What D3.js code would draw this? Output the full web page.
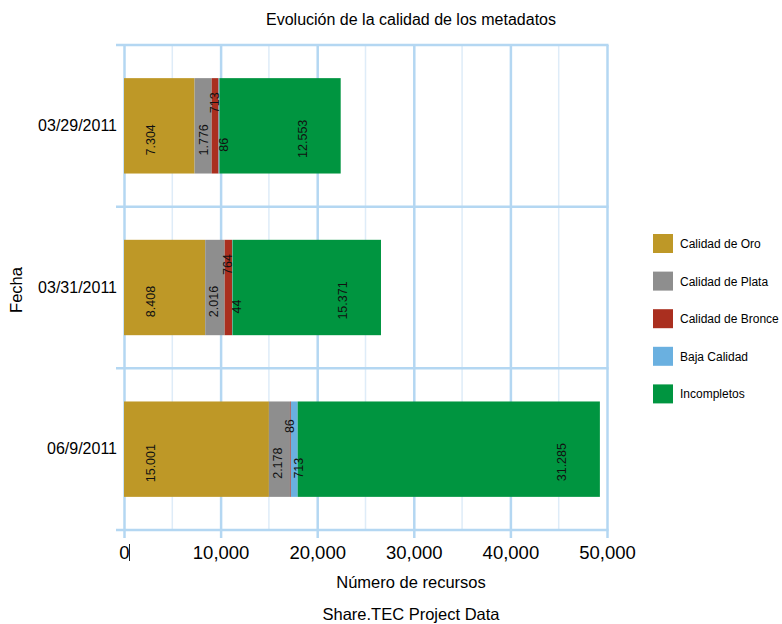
<!DOCTYPE html>
<html>
<head>
<meta charset="utf-8">
<script src="https://cdn.jsdelivr.net/npm/d3@7"></script>
<style>
  html, body { margin: 0; padding: 0; background: #ffffff; }
  svg { display: block; font-family: Arial, "Liberation Sans", sans-serif; }
</style>
</head>
<body>
<svg id="chart" width="782" height="624"></svg>
<script>
// ---- data ----
const dates = ["03/29/2011", "03/31/2011", "06/9/2011"];
const seriesNames = ["Calidad de Oro", "Calidad de Plata", "Calidad de Bronce", "Baja Calidad", "Incompletos"];
const oro = [7304, 8408, 15001];
const plata = [1776, 2016, 2178];
const bronce = [713, 764, 86];
const baja = [86, 44, 713];
const incompletos = [12553, 15371, 31285];
const xTicks = [0, 10000, 20000, 30000, 40000, 50000];
const xMinorTicks = [5000, 15000, 25000, 35000, 45000];

const colors = ["#be9827", "#8e8e8e", "#aa2f1f", "#6ab0e0", "#009540"];
const seriesValues = [oro, plata, bronce, baja, incompletos];

// table built from arrays
const rows = dates.map((d, i) => {
  const r = { date: d };
  seriesNames.forEach((s, j) => r[s] = seriesValues[j][i]);
  return r;
});
const stacked = d3.stack().keys(seriesNames)(rows);

const svg = d3.select("#chart");
const pL = 124, pR = 607, pT = 45, pB = 530;
const regular = "Arial, 'Liberation Sans', sans-serif";

const x = d3.scaleLinear().domain([0, 50000]).range([pL, pR]);
const y = d3.scaleBand().domain(dates).range([pT, pB]).paddingInner(0.41).paddingOuter(0.205);

const gridMajor = "#b4d7f2", gridMinor = "#deecf8";

// minor gridlines
svg.append("g").selectAll("line").data(xMinorTicks).join("line")
  .attr("x1", d => x(d)).attr("x2", d => x(d))
  .attr("y1", pT).attr("y2", pB)
  .attr("stroke", gridMinor).attr("stroke-width", 1.5);

// x axis (major gridlines + ticks)
const xAxis = d3.axisBottom(x).tickValues(xTicks).tickFormat(d3.format(",")).tickSize(8).tickPadding(8);
const gx = svg.append("g").attr("transform", `translate(0,${pB})`).call(xAxis);
gx.select(".domain").remove();
gx.selectAll(".tick line").attr("stroke", gridMajor).attr("stroke-width", 2.5).attr("y1", -(pB - pT));
gx.selectAll(".tick text").attr("fill", "#000").attr("font-size", 18.5).attr("font-family", regular);

// horizontal band separators
const sep = [pT].concat(dates.map(d => y(d) + y.bandwidth() + y.paddingInner() * y.step() / 2));
sep[sep.length - 1] = pB;
svg.append("g").selectAll("line").data(sep).join("line")
  .attr("x1", 116).attr("x2", pR + 1.5)
  .attr("y1", d => d).attr("y2", d => d)
  .attr("stroke", gridMajor).attr("stroke-width", 2.5);

// cursor-like mark after "0"
svg.append("line").attr("x1", x(0) + 5.5).attr("x2", x(0) + 5.5).attr("y1", 544).attr("y2", 561)
  .attr("stroke", "#222").attr("stroke-width", 1);

// bars
const layers = svg.append("g").selectAll("g").data(stacked).join("g")
  .attr("fill", (d, i) => colors[i]);
layers.selectAll("rect").data(d => d).join("rect")
  .attr("x", d => x(d[0]))
  .attr("width", d => x(d[1]) - x(d[0]))
  .attr("y", d => y(d.data.date))
  .attr("height", y.bandwidth());

// y axis labels
const gy = svg.append("g").attr("transform", `translate(${pL},0)`)
  .call(d3.axisLeft(y).tickSize(0).tickPadding(7));
gy.select(".domain").remove();
gy.selectAll(".tick text").attr("fill", "#000").attr("font-size", 16).attr("font-family", regular);

// value labels
const fmt = d3.formatLocale({ decimal: ",", thousands: ".", grouping: [3], currency: ["", ""] }).format(",d");
function labelPos(j, d) {
  const x0 = x(d[0]), x1 = x(d[1]), cy = y(d.data.date) + y.bandwidth() / 2;
  if (j === 0) return [x0 + 27, cy + 14];
  if (j === 1) return [x0 + 9, cy + 14];
  if (j === 2) return [(x0 + x1) / 2, cy - 23];
  if (j === 3) return [(x0 + x1) / 2 + 5, cy + 19];
  return [x1 - 38, cy + 13];
}
stacked.forEach((layer, j) => {
  svg.append("g").selectAll("text").data(layer).join("text")
    .attr("transform", d => { const p = labelPos(j, d); return `translate(${p[0]},${p[1]}) rotate(-90)`; })
    .attr("text-anchor", "middle")
    .attr("dominant-baseline", "central")
    .attr("font-size", 12.5)
    .attr("fill", "#111")
    .text(d => fmt(d[1] - d[0]));
});

// titles
svg.append("text").attr("x", 411).attr("y", 25).attr("text-anchor", "middle")
  .attr("font-size", 16).attr("fill", "#000").text("Evolución de la calidad de los metadatos");
svg.append("text").attr("x", 411).attr("y", 588).attr("text-anchor", "middle")
  .attr("font-size", 16.5).attr("fill", "#000").text("Número de recursos");
svg.append("text").attr("x", 411).attr("y", 620).attr("text-anchor", "middle")
  .attr("font-size", 16.5).attr("fill", "#000").text("Share.TEC Project Data");
svg.append("text").attr("transform", "translate(22,290) rotate(-90)").attr("text-anchor", "middle")
  .attr("font-size", 16.5).attr("fill", "#000").text("Fecha");

// legend
const lg = svg.append("g").selectAll("g").data(seriesNames).join("g")
  .attr("transform", (d, i) => `translate(653,${234 + i * 37.6})`);
lg.append("rect").attr("width", 20).attr("height", 19).attr("fill", (d, i) => colors[i]);
lg.append("text").attr("x", 27).attr("y", 10).attr("dominant-baseline", "central")
  .attr("font-size", 12).attr("fill", "#000").text(d => d);
</script>
</body>
</html>
